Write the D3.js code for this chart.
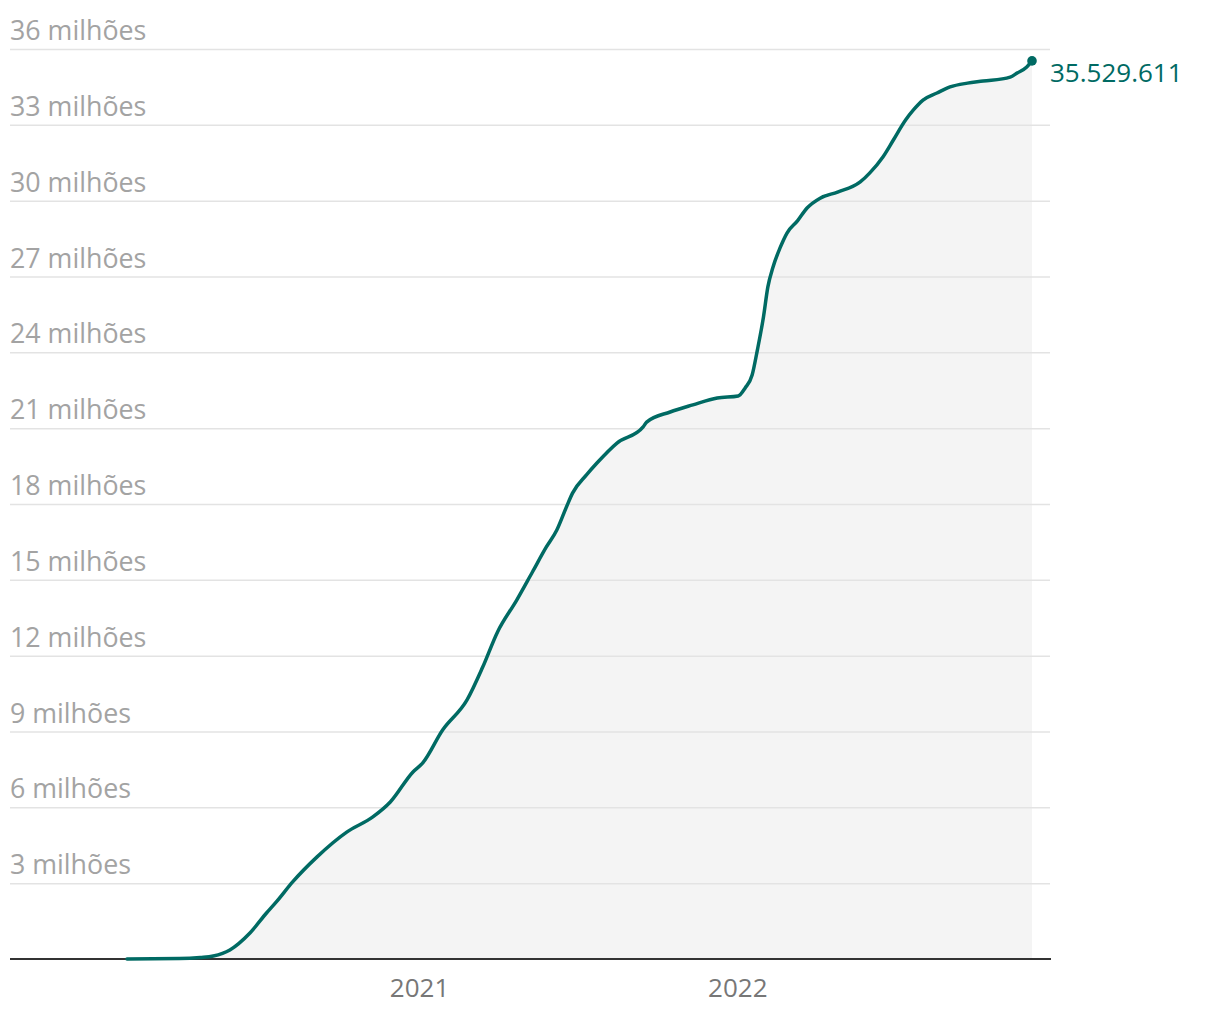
<!DOCTYPE html>
<html>
<head>
<meta charset="utf-8">
<script src="https://cdn.jsdelivr.net/npm/d3@7"></script>
<style>
  html, body { margin: 0; padding: 0; background: #fff; }
  svg { display: block; font-family: "Open Sans", "Noto Sans", sans-serif; }
</style>
</head>
<body>
<svg id="chart" width="1220" height="1020"></svg>
<script>
// ---- data ----
const dates = [
  "2020-02-01","2020-04-01","2020-04-25","2020-05-10","2020-05-29","2020-06-21",
  "2020-07-10","2020-07-22","2020-08-09","2020-09-06","2020-10-10","2020-11-09",
  "2020-11-29","2020-12-25","2021-01-05","2021-01-28","2021-02-25","2021-03-15",
  "2021-04-01","2021-04-23","2021-05-11","2021-05-27","2021-06-08","2021-06-19",
  "2021-06-26","2021-07-12","2021-07-24","2021-08-16","2021-09-15","2021-09-19",
  "2021-10-16","2021-11-11","2021-12-09","2022-01-02","2022-01-10","2022-01-18",
  "2022-01-24","2022-01-31","2022-02-05","2022-02-11","2022-02-19","2022-02-27",
  "2022-03-11","2022-03-22","2022-04-06","2022-04-26","2022-05-22","2022-06-02",
  "2022-06-17","2022-06-29","2022-07-13","2022-07-22","2022-08-02","2022-08-18",
  "2022-09-02","2022-09-22","2022-10-10","2022-11-10","2022-11-18","2022-11-29",
  "2022-12-05"
];
const cases = [ // cumulative cases, millions
  0, 0.016, 0.06, 0.12, 0.36, 1.03,
  1.82, 2.29, 3.05, 4.04, 5.02, 5.62,
  6.21, 7.40, 7.75, 9.06, 10.25, 11.55,
  12.94, 14.20, 15.31, 16.30, 16.97, 17.88,
  18.43, 19.15, 19.62, 20.41, 21.05, 21.24,
  21.64, 21.92, 22.19, 22.27, 22.59, 23.10,
  24.09, 25.40, 26.58, 27.38, 28.13, 28.72,
  29.20, 29.71, 30.10, 30.34, 30.74, 31.10,
  31.73, 32.40, 33.19, 33.59, 33.98, 34.26,
  34.50, 34.65, 34.73, 34.89, 35.05, 35.29,
  35.529611
];
const yTickValues = [3, 6, 9, 12, 15, 18, 21, 24, 27, 30, 33, 36];
const yTickSuffix = " milhões";
const xTickDates = ["2021-01-01", "2022-01-01"];
const xTickLabels = ["2021", "2022"];
const lastLabel = "35.529.611";

// ---- layout ----
const parse = d3.utcParse("%Y-%m-%d");
const data = dates.map((d, i) => ({ date: parse(d), value: cases[i] }));

const svg = d3.select("#chart");
const mLeft = 10, mRight = 1050, mTop = 49, mBottom = 959;
const TEAL = "#006a63";

const x = d3.scaleUtc()
  .domain(d3.extent(data, d => d.date))
  .range([127, 1032]);
const y = d3.scaleLinear().domain([0, 36]).range([mBottom, mTop]);

// area
svg.append("path")
  .datum(data)
  .attr("fill", "#f4f4f4")
  .attr("d", d3.area().x(d => x(d.date)).y0(y(0)).y1(d => y(d.value)).curve(d3.curveMonotoneX));

// y grid + labels
const yAxis = svg.append("g")
  .attr("transform", `translate(${mLeft},0)`)
  .call(d3.axisRight(y).tickValues(yTickValues).tickSize(mRight - mLeft)
        .tickFormat(d => d + yTickSuffix));
yAxis.select(".domain").remove();
yAxis.selectAll(".tick line").attr("stroke", "#e3e3e3").attr("stroke-width", 1.5);
yAxis.selectAll(".tick text")
  .attr("x", 0).attr("dy", null).attr("y", -9.5)
  .attr("text-anchor", "start")
  .attr("fill", "#a3a3a3")
  .attr("font-size", 26.8)
  .attr("font-family", "'Open Sans', sans-serif");

// baseline
svg.append("line")
  .attr("x1", mLeft).attr("x2", mRight + 1)
  .attr("y1", y(0)).attr("y2", y(0))
  .attr("stroke", "#333").attr("stroke-width", 2);

// x axis labels
const xAxis = svg.append("g")
  .attr("transform", `translate(0,${y(0)})`)
  .call(d3.axisBottom(x).tickValues(xTickDates.map(parse)).tickSize(0)
        .tickFormat((d, i) => xTickLabels[i]));
xAxis.select(".domain").remove();
xAxis.selectAll(".tick text")
  .attr("y", 38).attr("dy", null)
  .attr("fill", "#777")
  .attr("font-size", 26)
  .attr("font-family", "'Open Sans', sans-serif");

// line
svg.append("path")
  .datum(data)
  .attr("fill", "none")
  .attr("stroke", TEAL)
  .attr("stroke-width", 3.5)
  .attr("stroke-linejoin", "round")
  .attr("stroke-linecap", "round")
  .attr("d", d3.line().x(d => x(d.date)).y(d => y(d.value)).curve(d3.curveMonotoneX));

// end point + label
const last = data[data.length - 1];
svg.append("circle")
  .attr("cx", x(last.date)).attr("cy", y(last.value))
  .attr("r", 4.8).attr("fill", TEAL);
svg.append("text")
  .attr("x", x(last.date) + 18).attr("y", y(last.value) + 21)
  .attr("fill", TEAL)
  .attr("font-size", 26)
  .attr("font-family", "'Open Sans', sans-serif")
  .text(lastLabel);
</script>
</body>
</html>
